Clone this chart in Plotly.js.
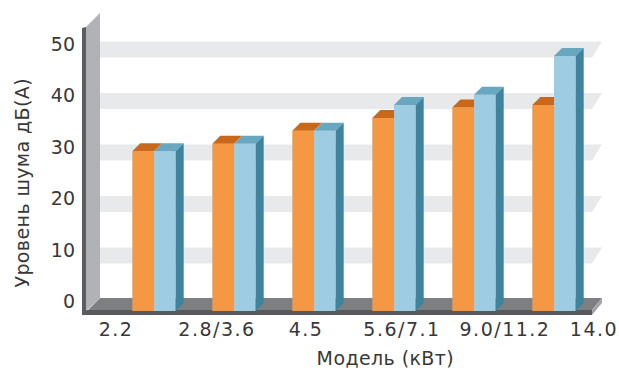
<!DOCTYPE html>
<html>
<head>
<meta charset="utf-8">
<script src="https://cdn.plot.ly/plotly-3.0.1.min.js"></script>
<style>
html,body{margin:0;padding:0;background:#fff;}
#chart{width:619px;height:372px;}
#chart .xtick text{letter-spacing:1.5px;}
#chart .annotation-text{letter-spacing:0.4px;}
</style>
</head>
<body>
<div id="chart"></div>
<script>
// ---- data ----
const categories = ['2.2', '2.8/3.6', '4.5', '5.6/7.1', '9.0/11.2', '14.0'];
const seriesOrange = [31, 32.5, 35, 37.5, 39.5, 40];
const seriesBlue = [31, 32.5, 35, 40, 42, 49.5];
const yTicks = [0, 10, 20, 30, 40, 50];
const yTickText = ['0', '10', '20', '30', '40', '50'];
const xTitle = 'Модель (кВт)';
const yTitle = 'Уровень шума дБ(А)';

// ---- geometry (layout only) ----
const W = 619, H = 372;
const L = 80, R = 611, T = 8, B = 316;
const PX0 = 154, PXU = 80;     // category 0 centre, px per category
const PY0 = 301.5, PYU = 5.15; // value 0 on back wall, px per unit
const toX = px => (px - PX0) / PXU;
const toY = py => (PY0 - py) / PYU;
const barW = 21.7 / PXU;
const base = toY(311);
const dx = 8 / PXU, dy = 8 / PYU;
const labelPx = [116, 217, 306, 402, 505, 594];
const FONT = 'DejaVu Sans, sans-serif';
const TXT = '#383838';

const C = {
  oFront: '#F59843', oTop: '#C96818',
  bFront: '#9ECDE3', bTop: '#69A7C1', bSide: '#41839D'
};

const idx = categories.map((c, i) => i);

// polygons built from data values
function polys(list) {
  const xs = [], ys = [];
  list.forEach(p => { p.forEach(q => { xs.push(q[0]); ys.push(q[1]); }); xs.push(p[0][0]); ys.push(p[0][1]); xs.push(null); ys.push(null); });
  return {xs, ys};
}
const oTops = polys(idx.map(i => {
  const x0 = i - barW, x1 = i, t = base + seriesOrange[i];
  const full = seriesOrange[i] >= seriesBlue[i];
  return [[x0, t], [x1, t], [full ? x1 + dx : x1, t + dy], [x0 + dx, t + dy]];
}));
const bTops = polys(idx.map(i => {
  const x0 = i, x1 = i + barW, t = base + seriesBlue[i];
  return [[x0, t], [x1, t], [x1 + dx, t + dy], [x0 + dx, t + dy]];
}));
const bSides = polys(idx.map(i => {
  const x1 = i + barW, t = base + seriesBlue[i];
  return [[x1, base], [x1, t], [x1 + dx, t + dy], [x1 + dx, base + dy]];
}));

const faceTrace = (p, col) => ({
  type: 'scatter', mode: 'lines', x: p.xs, y: p.ys, fill: 'toself',
  fillcolor: col, line: {width: 0, color: col}, hoverinfo: 'skip', showlegend: false
});

const traces = [
  {type: 'bar', x: idx, y: seriesOrange, base: base, width: barW, offset: -barW,
   marker: {color: C.oFront, line: {width: 0}}, showlegend: false, name: 'A'},
  {type: 'bar', x: idx, y: seriesBlue, base: base, width: barW, offset: 0,
   marker: {color: C.bFront, line: {width: 0}}, showlegend: false, name: 'B'},
  faceTrace(oTops, C.oTop),
  faceTrace(bTops, C.bTop),
  faceTrace(bSides, C.bSide)
];

// decoration shapes (walls, floor, grid bands)
function shape(pts, col) {
  const d = pts.map((p, k) => (k ? 'L' : 'M') + toX(p[0]) + ',' + toY(p[1])).join(' ') + ' Z';
  return {type: 'path', path: d, xref: 'x', yref: 'y', fillcolor: col, line: {width: 0}, layer: 'below'};
}
const shapes = [];
yTicks.filter(v => v > 0).forEach(v => {
  const yb = PY0 - PYU * v - 2.5;
  shapes.push(shape([[100, yb], [602, yb], [592, yb + 16], [100, yb + 16]], '#E8E9EB'));
});
shapes.push(shape([[100, 298], [602, 298], [592, 310], [88, 310]], '#7E7F83'));
shapes.push(shape([[82, 310], [592, 310], [592, 315], [82, 315]], '#58595D'));
shapes.push(shape([[592, 310], [602, 298], [602, 303], [592, 315]], '#A3A4A8'));
shapes.push(shape([[86, 27], [100, 13], [100, 298], [86, 311]], '#B1B2B6'));
shapes.push(shape([[82, 28], [86, 27], [86, 315], [82, 315]], '#5C5D61'));

const layout = {
  width: W, height: H,
  margin: {l: L, r: W - R, t: T, b: H - B, pad: 0},
  paper_bgcolor: '#ffffff', plot_bgcolor: '#ffffff',
  showlegend: false,
  barmode: 'overlay',
  font: {family: FONT, size: 19, color: TXT},
  xaxis: {
    range: [toX(L), toX(R)], showgrid: false, zeroline: false, showline: false, ticks: '',
    tickvals: labelPx.map(toX), ticktext: categories, ticklabelstandoff: 0,
    tickfont: {family: FONT, size: 19, color: TXT}, fixedrange: true
  },
  yaxis: {
    range: [toY(B), toY(T)], showgrid: false, zeroline: false, showline: false, ticks: '',
    tickvals: yTicks, ticktext: yTickText, ticklabelstandoff: 4,
    tickfont: {family: FONT, size: 19, color: TXT}, fixedrange: true
  },
  shapes: shapes,
  annotations: [
    {text: xTitle, xref: 'x', yref: 'paper', x: toX(385), y: (B - 358) / (B - T),
     xanchor: 'center', yanchor: 'middle', showarrow: false, font: {family: FONT, size: 19, color: TXT}},
    {text: yTitle, xref: 'paper', yref: 'y', x: (22 - L) / (R - L), y: toY(183), textangle: -90,
     xanchor: 'center', yanchor: 'middle', showarrow: false, font: {family: FONT, size: 19, color: TXT}}
  ]
};

Plotly.newPlot('chart', traces, layout, {displayModeBar: false, staticPlot: true});
</script>
</body>
</html>
